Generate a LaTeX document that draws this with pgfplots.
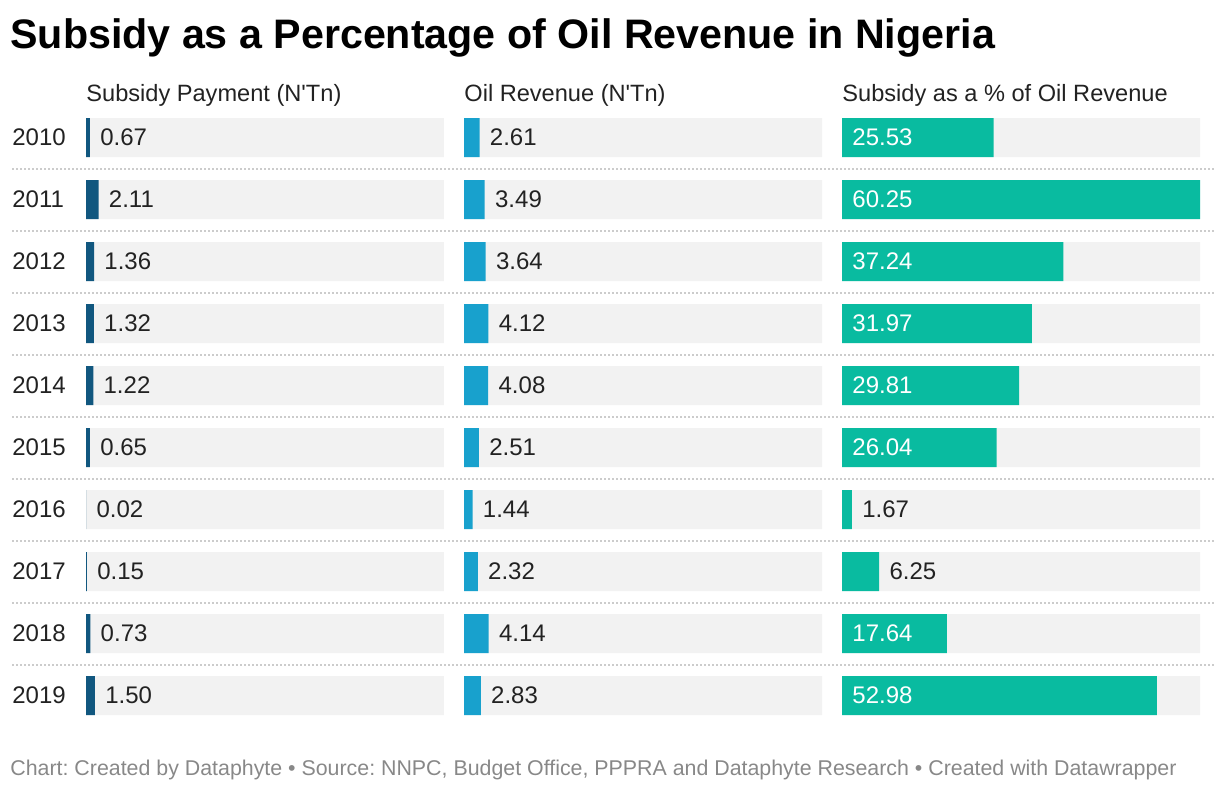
\documentclass[border=0pt]{standalone}
\usepackage{pgfplots}
\pgfplotsset{compat=1.18}
\usepackage{pgfplotstable}
\usepackage{fontspec}
\setmainfont{Liberation Sans}
\frenchspacing
\definecolor{dkblue}{HTML}{11577F}
\definecolor{ltblue}{HTML}{18A1CD}
\definecolor{teal}{HTML}{09BBA0}
\definecolor{bggray}{HTML}{F2F2F2}
\definecolor{txt}{HTML}{222222}
\definecolor{foot}{HTML}{888888}
\definecolor{dots}{HTML}{CCCCCC}

\pgfplotstableread{
row year sub oil pct full
0 2010 0.67 2.61 25.53 60.25
1 2011 2.11 3.49 60.25 60.25
2 2012 1.36 3.64 37.24 60.25
3 2013 1.32 4.12 31.97 60.25
4 2014 1.22 4.08 29.81 60.25
5 2015 0.65 2.51 26.04 60.25
6 2016 0.02 1.44 1.67 60.25
7 2017 0.15 2.32 6.25 60.25
8 2018 0.73 4.14 17.64 60.25
9 2019 1.50 2.83 52.98 60.25
}\datatable

\pgfplotstableread{
row pct
0 25.53
1 60.25
2 37.24
3 31.97
4 29.81
5 26.04
8 17.64
9 52.98
}\pctin

\pgfplotstableread{
row pct
6 1.67
7 6.25
}\pctout

\newcommand{\valfont}{\fontsize{12}{14}\selectfont}
\newcommand{\headfont}{\fontsize{11.8}{14}\selectfont}

\pgfplotsset{
  colaxis/.style={
    scale only axis, width=179pt, height=310pt,
    xmin=0, xmax=60.25, ymin=-0.5, ymax=9.5, y dir=reverse,
    xbar, bar width=19.5pt, bar shift=0pt,
    axis line style={draw=none}, major tick length=0pt,
    xtick=\empty, ytick=\empty, clip=false,
    anchor=north west,
  },
  lab/.style={nodes near coords, point meta=explicit symbolic,
    every node near coord/.append style={anchor=west, inner sep=0pt, xshift=5pt, font=\valfont, text=#1}},
}

\begin{document}
\begin{tikzpicture}
\useasboundingbox (0,0) rectangle (610pt,-396pt);

\node[anchor=base west, inner sep=0pt, font=\fontsize{20.6}{25}\selectfont\bfseries, text=black] at (5pt,-24.25pt) {Subsidy as a Percentage of Oil Revenue in Nigeria};

\node[anchor=base west, inner sep=0pt, font=\headfont, text=txt] at (43pt,-51pt) {Subsidy Payment (N\textquotesingle Tn)};
\node[anchor=base west, inner sep=0pt, font=\headfont, text=txt] at (232pt,-51pt) {Oil Revenue (N\textquotesingle Tn)};
\node[anchor=base west, inner sep=0pt, font=\headfont, text=txt] at (421pt,-51pt) {Subsidy as a \% of Oil Revenue};

\foreach \k in {0,...,8} {
  \draw[dots, line width=1pt, dash pattern=on 1pt off 1pt] (6pt,{-84.25pt-31pt*\k}) -- (608pt,{-84.25pt-31pt*\k});
}

\begin{axis}[colaxis, at={(43pt,-53.25pt)},
  ytick={0,...,9}, yticklabels={2010,2011,2012,2013,2014,2015,2016,2017,2018,2019},
  yticklabel style={anchor=west, inner sep=0pt, xshift=-37pt, font=\valfont, text=txt}]
\addplot[fill=bggray, draw=none] table[x=full, y=row] \datatable;
\addplot[fill=dkblue, draw=none, lab=txt] table[x=sub, y=row, meta=sub] \datatable;
\end{axis}

\begin{axis}[colaxis, at={(232pt,-53.25pt)}]
\addplot[fill=bggray, draw=none] table[x=full, y=row] \datatable;
\addplot[fill=ltblue, draw=none, lab=txt] table[x=oil, y=row, meta=oil] \datatable;
\end{axis}

\begin{axis}[colaxis, at={(421pt,-53.25pt)}]
\addplot[fill=bggray, draw=none] table[x=full, y=row] \datatable;
\addplot[fill=teal, draw=none] table[x=pct, y=row] \datatable;
\addplot[draw=none, fill=none, lab=white] table[x expr=0, y=row, meta=pct] \pctin;
\addplot[draw=none, fill=none, lab=txt] table[x=pct, y=row, meta=pct] \pctout;
\end{axis}

\node[anchor=base west, inner sep=0pt, font=\fontsize{10.68}{13}\selectfont, text=foot] at (5pt,-387.5pt) {Chart: Created by Dataphyte • Source: NNPC, Budget Office, PPPRA and Dataphyte Research • Created with Datawrapper};
\end{tikzpicture}
\end{document}
